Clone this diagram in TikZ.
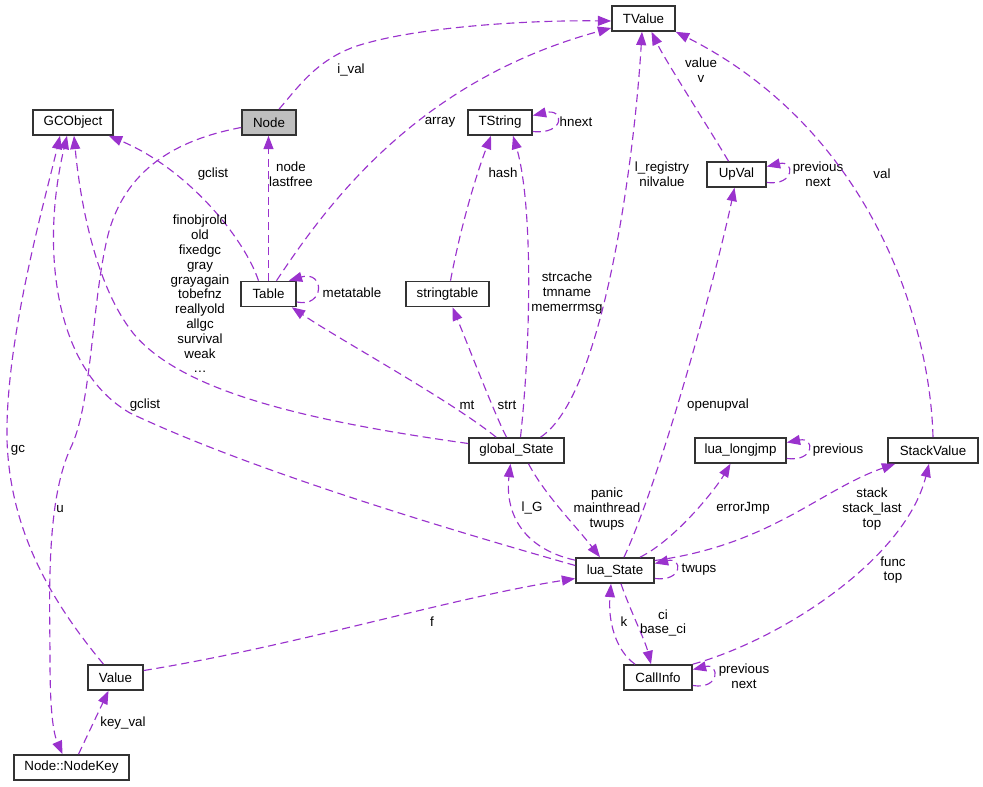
\documentclass[tikz,border=0pt]{standalone}
\usepackage{fontspec}
\setmainfont{Liberation Sans}
\usetikzlibrary{positioning,calc,arrows.meta}
\definecolor{edgepurple}{HTML}{9A32CD}
\definecolor{nodegray}{HTML}{BFBFBF}
\tikzset{
  cls/.style={draw=black!80, line width=1.2pt, fill=white, minimum height=18.75pt, inner sep=0pt},
  dep/.style={-{Triangle[length=10pt,width=7.5pt]}, edgepurple, line width=0.85pt, dash pattern=on 6pt off 3.5pt},
  lbl/.style={align=center, inner sep=0pt},
}

\begin{document}
\begin{tikzpicture}[x=0.75pt, y=-0.75pt, font=\fontsize{10}{11.1}\selectfont]
    \useasboundingbox (0,0) rectangle (983,787);

    % classes
    \node[cls, minimum width=60pt] (gcobject) at (73,122.5) {GCObject};
    \node[cls, minimum width=40.5pt, fill=nodegray] (node) at (269,122.5) {Node};
    \node[cls, minimum width=41.25pt] (table) at (268.5,294) {Table};
    \node[cls, minimum width=62.25pt] (stringtable) at (447.5,294) {stringtable};
    \node[cls, minimum width=48pt] (tstring) at (500,122.5) {TString};
    \node[cls, minimum width=47.25pt] (tvalue) at (643.5,18.5) {TValue};
    \node[cls, minimum width=44.25pt] (upval) at (736.5,174.5) {UpVal};
    \node[cls, minimum width=71.25pt] (globalstate) at (516.5,450.5) {global\_State};
    \node[cls, minimum width=68.25pt] (longjmp) at (740.5,450.5) {lua\_longjmp};
    \node[cls, minimum width=67.5pt] (stackvalue) at (933,450.5) {StackValue};
    \node[cls, minimum width=58.5pt] (luastate) at (615,570.5) {lua\_State};
    \node[cls, minimum width=51pt] (callinfo) at (658,677.5) {CallInfo};
    \node[cls, minimum width=41.25pt] (value) at (115.5,677.5) {Value};
    \node[cls, minimum width=86.25pt] (nodekey) at (71.5,767.5) {Node::NodeKey};

    % upper part
    \draw[dep] ($(node.north)+(10,0)$) .. controls (300,85) and (320,55) .. (367,43)
        .. controls (420,28) and (520,20) .. ($(tvalue.west)+(0,2.5)$);
    \node[lbl] (l-ival) at (351,70) {i\_val};
    \draw[dep] ($(table.north)+(8,0)$) .. controls (330,200) and (420,80) .. ($(tvalue.west)+(0,9.5)$);
    \node[lbl] (l-array) at (440,122) {array};
    \draw[dep] ($(table.north)+(-10,0)$) .. controls (245,240) and (190,170) .. ($(gcobject.south east)+(-5,0)$);
    \node[lbl] (l-gclist) at (213,174) {gclist};
    \draw[dep] (table.north) -- (table.north |- node.south);
    \node[lbl] (l-node) at (291,174) {node\\lastfree};
    \draw[dep] ($(table.east)+(0,8)$) .. controls (325,308) and (325,270) .. ($(table.north east)+(-8,0)$);
    \node[lbl] (l-meta) at (352,293) {metatable};
    \draw[dep] ($(tstring.east)+(0,9)$) .. controls (565,135) and (565,108) .. ($(tstring.east)+(0,-7)$);
    \node[lbl] (l-hnext) at (576,122) {hnext};
    \draw[dep] ($(stringtable.north)+(3,0)$) .. controls (462,220) and (478,170) .. ($(tstring.south)+(-9,0)$);
    \node[lbl] (l-hash) at (503,173) {hash};
    \draw[dep] ($(globalstate.north)+(4,0)$) .. controls (532,330) and (532,200) .. ($(tstring.south)+(13,0)$);
    \node[lbl] (l-strcache) at (567,293) {strcache\\tmname\\memerrmsg};
    \draw[dep] ($(globalstate.north)+(24,0)$) .. controls (605,395) and (635,150) .. ($(tvalue.south)+(-1.5,0)$);
    \node[lbl] (l-registry) at (662,174) {l\_registry\\nilvalue};
    \draw[dep] ($(upval.north)+(-8,0)$) .. controls (710,130) and (665,60) .. ($(tvalue.south)+(8,0)$);
    \node[lbl] (l-value) at (701,70) {value\\v};
    \draw[dep] ($(upval.east)+(0,8)$) .. controls (795,186) and (795,160) .. ($(upval.east)+(0,-8)$);
    \node[lbl] (l-upprev) at (818,174) {previous\\next};
    \draw[dep] (stackvalue.north) .. controls (930,320) and (870,130) .. (tvalue.south east);
    \node[lbl] (l-val) at (882,174) {val};

    % global_State
    \draw[dep] ($(globalstate.north west)+(28,0)$) .. controls (450,400) and (340,340) .. ($(table.south east)+(-5,0)$);
    \node[lbl] (l-mt) at (467,405) {mt};
    \draw[dep] ($(globalstate.north)+(-10,0)$) .. controls (495,415) and (470,350) .. ($(stringtable.south)+(5,0)$);
    \node[lbl] (l-strt) at (507,405) {strt};
    \draw[dep] ($(globalstate.west)+(0,-7)$) .. controls (300,420) and (180,390) .. (133,333)
        .. controls (95,285) and (80,200) .. ($(gcobject.south)+(1,0)$);
    \node[lbl] (l-finobj) at (200,294) {finobjrold\\old\\fixedgc\\gray\\grayagain\\tobefnz\\reallyold\\allgc\\survival\\weak\\\dots};

    % left part
    \draw[dep] ($(luastate.west)+(0,-5)$) .. controls (450,530) and (250,470) .. (130,413)
        .. controls (55,370) and (40,250) .. ($(gcobject.south)+(-6,0)$);
    \node[lbl] (l-gclist2) at (145,405) {gclist};
    \draw[dep] ($(value.north)+(-12,0)$) .. controls (50,600) and (10,530) .. (7,440)
        .. controls (5,340) and (45,200) .. ($(gcobject.south)+(-13,0)$);
    \node[lbl] (l-gc) at (18,450) {gc};
    \draw[dep] ($(node.west)+(0,5)$) .. controls (175,140) and (125,170) .. (108,235)
        .. controls (92,300) and (92,400) .. (72,445)
        .. controls (45,500) and (50,600) .. (50,660)
        .. controls (50,700) and (52,730) .. ($(nodekey.north)+(-9,0)$);
    \node[lbl] (l-u) at (60,509) {u};
    \draw[dep] ($(nodekey.north)+(7,0)$) -- ($(value.south)+(-7,0)$);
    \node[lbl] (l-keyval) at (123,723) {key\_val};
    \draw[dep] ($(value.east)+(0,-7)$) .. controls (300,645) and (450,598) .. ($(luastate.west)+(0,8)$);
    \node[lbl] (l-f) at (432,622) {f};

    % lua_State
    \draw[dep] ($(luastate.north west)+(0,3)$) .. controls (520,548) and (505,510) .. ($(globalstate.south)+(-6,0)$);
    \node[lbl] (l-lg) at (532,508) {l\_G};
    \draw[dep] ($(globalstate.south)+(12,0)$) .. controls (545,495) and (575,525) .. ($(luastate.north)+(-15,0)$);
    \node[lbl] (l-panic) at (607,509) {panic\\mainthread\\twups};
    \draw[dep] ($(luastate.north)+(9,0)$) .. controls (660,480) and (715,280) .. ($(upval.south)+(-2,0)$);
    \node[lbl] (l-openup) at (718,405) {openupval};
    \draw[dep] ($(luastate.north)+(25,0)$) .. controls (675,540) and (715,490) .. ($(longjmp.south)+(-10,0)$);
    \node[lbl] (l-errjmp) at (743,508) {errorJmp};
    \draw[dep] ($(longjmp.east)+(0,8)$) .. controls (815,462) and (815,437) .. ($(longjmp.east)+(0,-8)$);
    \node[lbl] (l-jmpprev) at (838,450) {previous};
    \draw[dep] ($(luastate.east)+(0,-10)$) .. controls (770,545) and (820,490) .. ($(stackvalue.south west)+(8,0)$);
    \node[lbl] (l-stack) at (872,509) {stack\\stack\_last\\top};
    \draw[dep] ($(luastate.east)+(0,8)$) .. controls (683,582) and (683,557) .. ($(luastate.east)+(0,-7)$);
    \node[lbl] (l-twups) at (699,570) {twups};

    % CallInfo
    \draw[dep] ($(luastate.south)+(6,0)$) .. controls (630,610) and (645,640) .. ($(callinfo.north)+(-7,0)$);
    \node[lbl] (l-ci) at (663,623) {ci\\base\_ci};
    \draw[dep] ($(callinfo.north)+(-23,0)$) .. controls (615,650) and (608,620) .. ($(luastate.south)+(-4,0)$);
    \node[lbl] (l-k) at (624,622) {k};
    \draw[dep] (callinfo.north east) .. controls (780,640) and (905,560) .. ($(stackvalue.south)+(-4,0)$);
    \node[lbl] (l-func) at (893,570) {func\\top};
    \draw[dep] ($(callinfo.east)+(0,8)$) .. controls (720,690) and (720,663) .. ($(callinfo.east)+(0,-8)$);
    \node[lbl] (l-ciprev) at (744,676) {previous\\next};
  \end{tikzpicture}
\end{document}
